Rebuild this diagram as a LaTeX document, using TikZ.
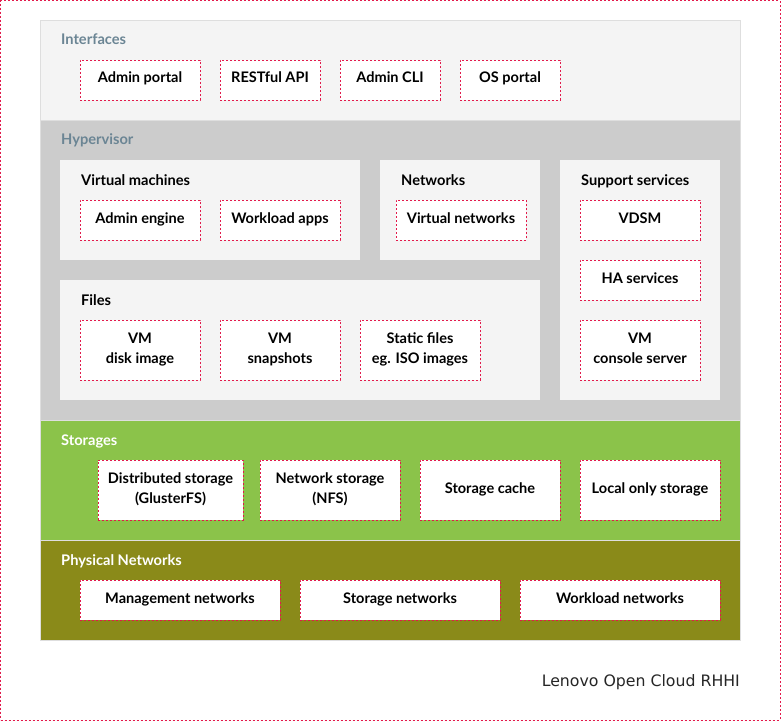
\documentclass[tikz,border=0pt]{standalone}
\usepackage{fontspec}
\setmainfont{Lato}
\newfontfamily\captionfont{DejaVu Sans}
\usepackage{xcolor}
\usepackage{tikz}
\usetikzlibrary{positioning}

\definecolor{dashred}{HTML}{E3194B}
\definecolor{panelgray}{HTML}{F4F4F4}
\definecolor{hypergray}{HTML}{CCCCCC}
\definecolor{storegreen}{HTML}{8BC34A}
\definecolor{netolive}{HTML}{8A8A19}
\definecolor{titleblue}{HTML}{6B8594}
\definecolor{edgegray}{HTML}{DEDEDE}

\begin{document}
\begin{tikzpicture}[x=1bp,y=-1bp]
            \tikzstyle{layer} = [rectangle, anchor=north west, inner sep=0pt, outer sep=0pt, minimum width=700bp, draw=edgegray]
            \tikzstyle{panel} = [rectangle, anchor=north west, inner sep=0pt, outer sep=0pt, fill=panelgray]
            \tikzstyle{title} = [anchor=base west, inner sep=0pt, font=\fontsize{14.7}{20}\selectfont\bfseries]
            \tikzstyle{block} = [draw=dashred, dash pattern=on 2bp off 2bp, fill=white, rectangle, inner sep=0pt, outer sep=0pt, minimum height=40bp, text height=10bp, text depth=4bp, align=center, font=\fontsize{14.6}{20}\selectfont\bfseries]
            \tikzstyle{tallblock} = [block, minimum height=60bp, text height=30bp]

            \useasboundingbox (0,0) rectangle (781,721);
            \node [draw=dashred, dash pattern=on 2bp off 2bp, rectangle, anchor=north west, inner sep=0pt, minimum width=779bp, minimum height=719bp] (frame) at (0.5,0.5) {};

            \node [layer, fill=panelgray, minimum height=100bp] (interfaces) at (40,20) {};
            \node [title, text=titleblue] (interfacestitle) at (61,45) {Interfaces};
            \node [block, minimum width=120bp, anchor=north west] (adminportal) at (80,60) {Admin portal};
            \node [block, minimum width=100bp, right = 20bp of adminportal] (restapi) {RESTful API};
            \node [block, minimum width=100bp, right = 20bp of restapi] (admincli) {Admin CLI};
            \node [block, minimum width=100bp, right = 20bp of admincli] (osportal) {OS portal};

            \node [layer, fill=hypergray, minimum height=300bp] (hypervisor) at (40,120) {};
            \node [title, text=titleblue] (hypervisortitle) at (61,145) {Hypervisor};
            \node [panel, minimum width=300bp, minimum height=100bp] (vms) at (60,160) {};
            \node [title] (vmstitle) at (81,185) {Virtual machines};
            \node [block, minimum width=120bp, anchor=north west] (adminengine) at (80,200) {Admin engine};
            \node [block, minimum width=120bp, right = 20bp of adminengine] (workloadapps) {Workload apps};
            \node [panel, minimum width=160bp, minimum height=100bp, right = 20bp of vms] (networks) {};
            \node [title] (networkstitle) at (401,185) {Networks};
            \node [block, minimum width=130bp, anchor=north west] (virtnets) at (396,200) {Virtual networks};
            \node [panel, minimum width=160bp, minimum height=240bp] (support) at (560,160) {};
            \node [title] (supporttitle) at (581,185) {Support services};
            \node [block, minimum width=120bp, anchor=north west] (vdsm) at (580,200) {VDSM};
            \node [block, minimum width=120bp, below = 20bp of vdsm] (haservices) {HA services};
            \node [tallblock, minimum width=120bp, below = 20bp of haservices] (consoleserver) {VM\\console server};
            \node [panel, minimum width=480bp, minimum height=120bp] (files) at (60,280) {};
            \node [title] (filestitle) at (81,305) {Files};
            \node [tallblock, minimum width=120bp, anchor=north west] (diskimage) at (80,320) {VM\\disk image};
            \node [tallblock, minimum width=120bp, right = 20bp of diskimage] (snapshots) {VM\\snapshots};
            \node [tallblock, minimum width=120bp, right = 20bp of snapshots] (staticfiles) {Static files\\eg. ISO images};

            \node [layer, fill=storegreen, minimum height=120bp] (storages) at (40,420) {};
            \node [title, text=white] (storagestitle) at (61,445) {Storages};
            \node [tallblock, minimum width=145bp, anchor=north west] (distributed) at (98,460) {Distributed storage\\(GlusterFS)};
            \node [tallblock, minimum width=140bp, anchor=north west] (networkstorage) at (260,460) {Network storage\\(NFS)};
            \node [block, minimum width=140bp, minimum height=60bp, right = 20bp of networkstorage] (storagecache) {Storage cache};
            \node [block, minimum width=140bp, minimum height=60bp, right = 20bp of storagecache] (localstorage) {Local only storage};

            \node [layer, fill=netolive, minimum height=100bp] (physical) at (40,540) {};
            \node [title, text=white] (physicaltitle) at (61,565) {Physical Networks};
            \node [block, minimum width=200bp, anchor=north west] (mgmtnets) at (80,580) {Management networks};
            \node [block, minimum width=200bp, right = 20bp of mgmtnets] (storagenets) {Storage networks};
            \node [block, minimum width=200bp, right = 20bp of storagenets] (workloadnets) {Workload networks};

            \node [anchor=base east, inner sep=0pt, font=\captionfont\fontsize{15.8}{19}\selectfont, text=black!85] (caption) at (740,686) {Lenovo Open Cloud RHHI};
\end{tikzpicture}
\end{document}
